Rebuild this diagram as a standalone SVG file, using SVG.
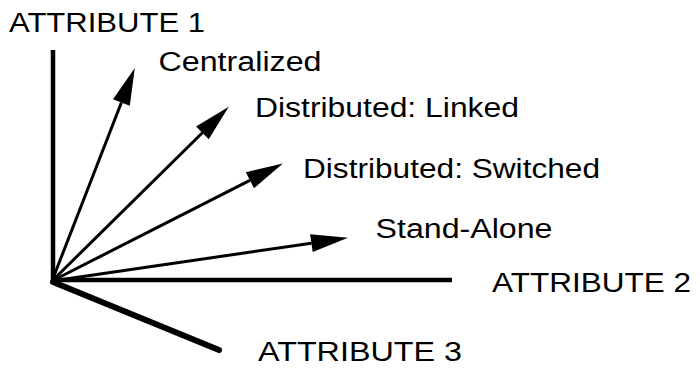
<svg xmlns="http://www.w3.org/2000/svg" width="700" height="373" viewBox="0 0 700 373">
  <style>
    .axis { stroke: #000; stroke-width: 4.5; fill: none; }
    .axis3 { stroke: #000; stroke-width: 6; stroke-linecap: round; fill: none; }
    .vec { stroke: #000; stroke-width: 3; fill: none; marker-end: url(#head); }
    .label { font-family: "Liberation Sans", Arial, Helvetica, sans-serif; font-size: 27px; fill: #000; }
  </style>
  <defs>
    <marker id="head" markerUnits="userSpaceOnUse" viewBox="0 -10 38 20" refX="0" refY="0" markerWidth="38" markerHeight="20" orient="auto" overflow="visible">
      <path d="M0,-9 L37,0 L0,9 Z" fill="#000"/>
    </marker>
  </defs>

  <rect width="700" height="373" fill="#fff"/>

  <!-- axes and architecture vectors -->
  <g id="connectors">
    <line class="axis" x1="53" y1="50" x2="53" y2="283"/>
    <line class="axis" x1="51" y1="280" x2="452" y2="280"/>
    <line class="axis3" x1="53" y1="282" x2="219" y2="350"/>
    <line class="vec" x1="52" y1="281" x2="121.4" y2="102.5"/>
    <line class="vec" x1="52" y1="281" x2="202.4" y2="132.8"/>
    <line class="vec" x1="52" y1="281" x2="249.9" y2="180.3"/>
    <line class="vec" x1="52" y1="281" x2="311.4" y2="243.2"/>
  </g>

  <g id="attribute-1">
    <text class="label" x="9" y="32" textLength="196" lengthAdjust="spacingAndGlyphs">ATTRIBUTE 1</text>
  </g>
  <g id="centralized">
    <text class="label" x="158.5" y="71" textLength="163" lengthAdjust="spacingAndGlyphs">Centralized</text>
  </g>
  <g id="distributed-linked">
    <text class="label" x="255" y="117" textLength="264" lengthAdjust="spacingAndGlyphs">Distributed: Linked</text>
  </g>
  <g id="distributed-switched">
    <text class="label" x="303" y="178" textLength="297" lengthAdjust="spacingAndGlyphs">Distributed: Switched</text>
  </g>
  <g id="stand-alone">
    <text class="label" x="375.5" y="238" textLength="177" lengthAdjust="spacingAndGlyphs">Stand-Alone</text>
  </g>
  <g id="attribute-2">
    <text class="label" x="492" y="292" textLength="199" lengthAdjust="spacingAndGlyphs">ATTRIBUTE 2</text>
  </g>
  <g id="attribute-3">
    <text class="label" x="258" y="361" textLength="204" lengthAdjust="spacingAndGlyphs">ATTRIBUTE 3</text>
  </g>
</svg>
